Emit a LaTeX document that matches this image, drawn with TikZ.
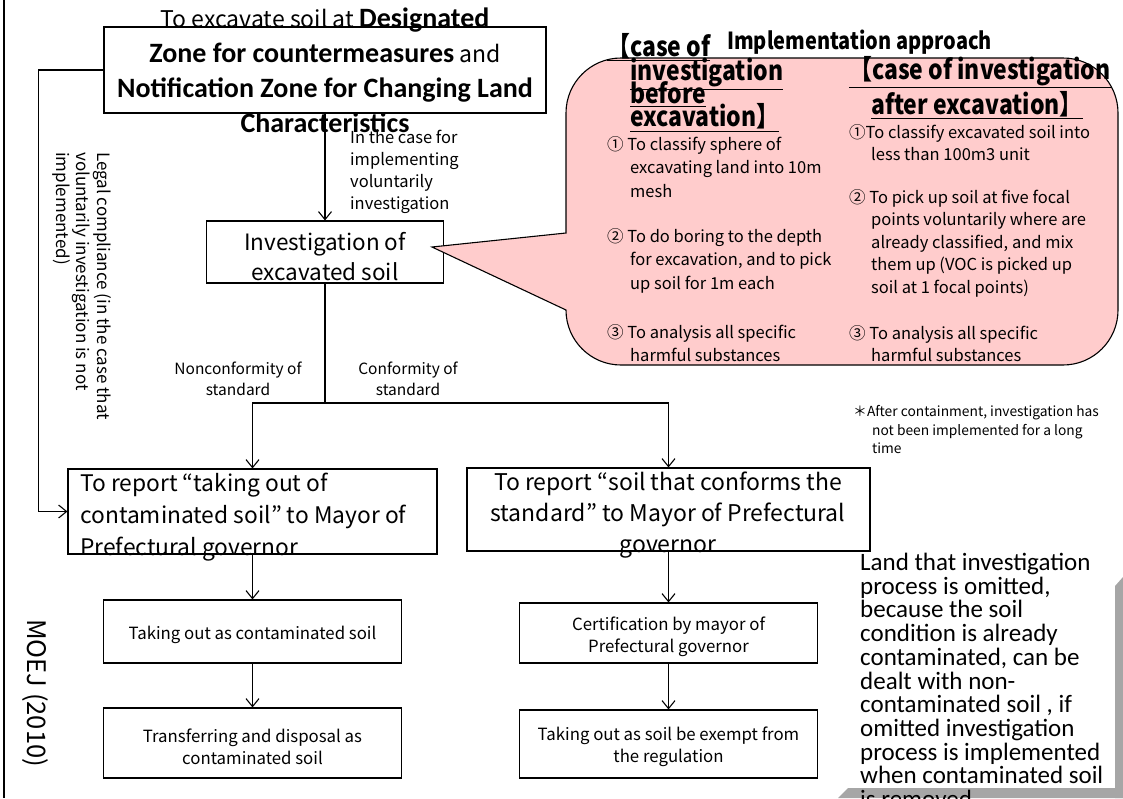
\documentclass[tikz,border=0pt]{standalone}
\usepackage{fontspec}
\setmainfont{Noto Sans CJK JP}
\newfontfamily\calfont{Carlito}
\newfontfamily\hdfont{Noto Sans CJK JP}[FakeStretch=0.85]
\usetikzlibrary{arrows.meta}
\definecolor{calloutpink}{HTML}{FFCCCC}
\definecolor{bevelgray}{HTML}{A6A6A6}
\newcommand\setfs[2]{\fontsize{#1}{#2}\selectfont\lineskiplimit=-40pt\relax}
\newcommand\cb[1]{{\calfont\bfseries\fontsize{28}{35}\selectfont #1}}
\newcommand\hd{\hdfont\bfseries}
\begin{document}
\begin{tikzpicture}[x=1pt,y=-1pt,
  box/.style={draw=black,line width=1.1pt,inner sep=0pt,fill=white},
  txt/.style={inner sep=0pt,align=center},
  ltxt/.style={inner sep=0pt,align=left},
  link/.style={line width=1.1pt},
  arr/.style={link,-{Straight Barb[length=8pt,width=13pt]}},
  small/.style={txt,font=\setfs{16.8}{22}},
  item/.style={ltxt,anchor=west,font=\setfs{16.5}{#1}},
  head/.style={ltxt,anchor=west,font=\hd\setfs{27}{#1}},
]
\useasboundingbox (0,0) rectangle (1123,798);

% frame line on the left
\draw[line width=1.3pt] (4,0) -- (4,798);

% ---------- main flow boxes ----------
\node[box,minimum width=442pt,minimum height=86pt] (top) at (325,70) {};
\node[txt,font=\setfs{23}{35}] (toptext) at (325,70) {To excavate soil at \cb{Designated}\\
  \cb{Zone for countermeasures} and\\
  \cb{Notification Zone for Changing Land}\\
  \cb{Characteristics}};

\node[box,minimum width=237pt,minimum height=62pt] (inv) at (325,252) {};
\node[txt,font=\setfs{22.5}{30}] (invtext) at (325,257) {Investigation of\\excavated soil};

\node[box,minimum width=369pt,minimum height=85pt] (rep1) at (252.5,511.5) {};
\node[box,minimum width=403pt,minimum height=83pt] (rep2) at (668.5,509.5) {};

\node[box,minimum width=298pt,minimum height=63pt] (take1) at (252.5,631.5) {};
\node[box,minimum width=298pt,minimum height=70pt] (trans1) at (252.5,743) {};
\node[box,minimum width=298pt,minimum height=60pt] (cert) at (668.5,633) {};
\node[box,minimum width=298pt,minimum height=68pt] (exempt) at (668.5,744) {};

\node[small] (take1text) at (252.5,635) {Taking out as contaminated soil};
\node[small] (trans1text) at (252.5,746.5) {Transferring and disposal as\\contaminated soil};
\node[small] (certtext) at (668.5,636.5) {Certification by mayor of\\Prefectural governor};
\node[small] (exempttext) at (668.5,746.5) {Taking out as soil be exempt from\\the regulation};

% ---------- connectors ----------
\coordinate (br) at (325,403);
\draw[arr] (top.south) -- (inv.north);
\draw[arr] (top.west) -- ++(-65,0) |- (rep1.west);
\draw[link] (inv.south) -- (br);
\draw[arr] (br) -| (rep1.north);
\draw[arr] (br) -| (rep2.north);
\draw[arr] (rep1.south) -- (take1.north);
\draw[arr] (take1.south) -- (trans1.north);
\draw[arr] (rep2.south) -- (cert.north);
\draw[arr] (cert.south) -- (exempt.north);

% texts that run past their boxes
\node[ltxt,anchor=west,font=\setfs{22.8}{32}] (rep1text) at (80,517) {To report “taking out of\\contaminated soil” to Mayor of\\Prefectural governor};
\node[txt,font=\setfs{23}{31}] (rep2text) at (668,515) {To report “soil that conforms the\\standard” to Mayor of Prefectural\\governor};

% ---------- labels ----------
\node[ltxt,anchor=west,font=\setfs{16.5}{22}] (volnote) at (350,171.5) {In the case for\\implementing\\voluntarily\\investigation};
\node[ltxt,anchor=west,rotate=-90,font=\setfs{17}{20.5}] (legal) at (82,152) {Legal compliance (in the case that\\voluntarily investigation is not\\implemented)};
\node[txt,font=\setfs{15.5}{21}] (nonconf) at (238,379) {Nonconformity of\\standard};
\node[txt,font=\setfs{15.5}{21}] (conf) at (408,379) {Conformity of\\standard};
\node[txt,rotate=-90,font=\setfs{25.5}{28}] (moej) at (35,693) {MOEJ (2010)};

\node[ltxt,anchor=west,font=\setfs{13.8}{18.5}] (after) at (853,429.5) {＊After containment, investigation has\\
  \hspace*{19pt}not been implemented for a long\\\hspace*{19pt}time};

% ---------- callout ----------
\coordinate (tip) at (432,247);
\draw[line width=1.1pt,fill=calloutpink] (tip) -- (566,233) [rounded corners=55pt]
  -- (566,58) -- (1118,58) -- (1118,365) -- (566,365) [sharp corners] -- (566,310) -- cycle;

\node[head=23] (h0) at (607,47) {\underline{【case of}};
\node[ltxt,anchor=west,font=\hd\setfs{23.5}{23}] (impl) at (727,42) {Implementation approach};
\node[head=23] (hleft) at (630,95) {\underline{investigation}\\\underline{before}\\\underline{excavation】}};
\node[head=33] (hright1) at (849,72) {\underline{【case of investigation}};
\node[head=33] (hright2) at (871,105) {\underline{after excavation】}};

\node[item=23.5] (l1) at (607,166.7) {① To classify sphere of\\\hspace*{23pt}excavating land into 10m\\\hspace*{23pt}mesh};
\node[item=23.5] (l2) at (607,260.7) {② To do boring to the depth\\\hspace*{23pt}for excavation, and to pick\\\hspace*{23pt}up soil for 1m each};
\node[item=23] (l3) at (607,343.5) {③ To analysis all specific\\\hspace*{23pt}harmful substances};
\node[item=21.5] (r1) at (849,142.5) {①To classify excavated soil into\\\hspace*{22pt}less than 100m3 unit};
\node[item=22.5] (r2) at (849,243.2) {② To pick up soil at five focal\\\hspace*{22pt}points voluntarily where are\\\hspace*{22pt}already classified, and mix\\\hspace*{22pt}them up (VOC is picked up\\\hspace*{22pt}soil at 1 focal points)};
\node[item=22] (r3) at (849,344) {③ To analysis all specific\\\hspace*{22pt}harmful substances};

% ---------- side note with bevelled edge ----------
\fill[bevelgray] (1115,586) -- (1123,577) -- (1123,798) -- (1115,798) -- cycle;
\fill[bevelgray] (838,798) -- (848,788) -- (1123,788) -- (1123,798) -- cycle;
\node[ltxt,anchor=north west,font=\calfont\setfs{25}{23.7}] (omitted) at (860,553) {Land that investigation\\process is omitted,\\because the soil\\condition is already\\contaminated, can be\\dealt with non-\\contaminated soil , if\\omitted investigation\\process is implemented\\when contaminated soil\\is removed};
\end{tikzpicture}
\end{document}
